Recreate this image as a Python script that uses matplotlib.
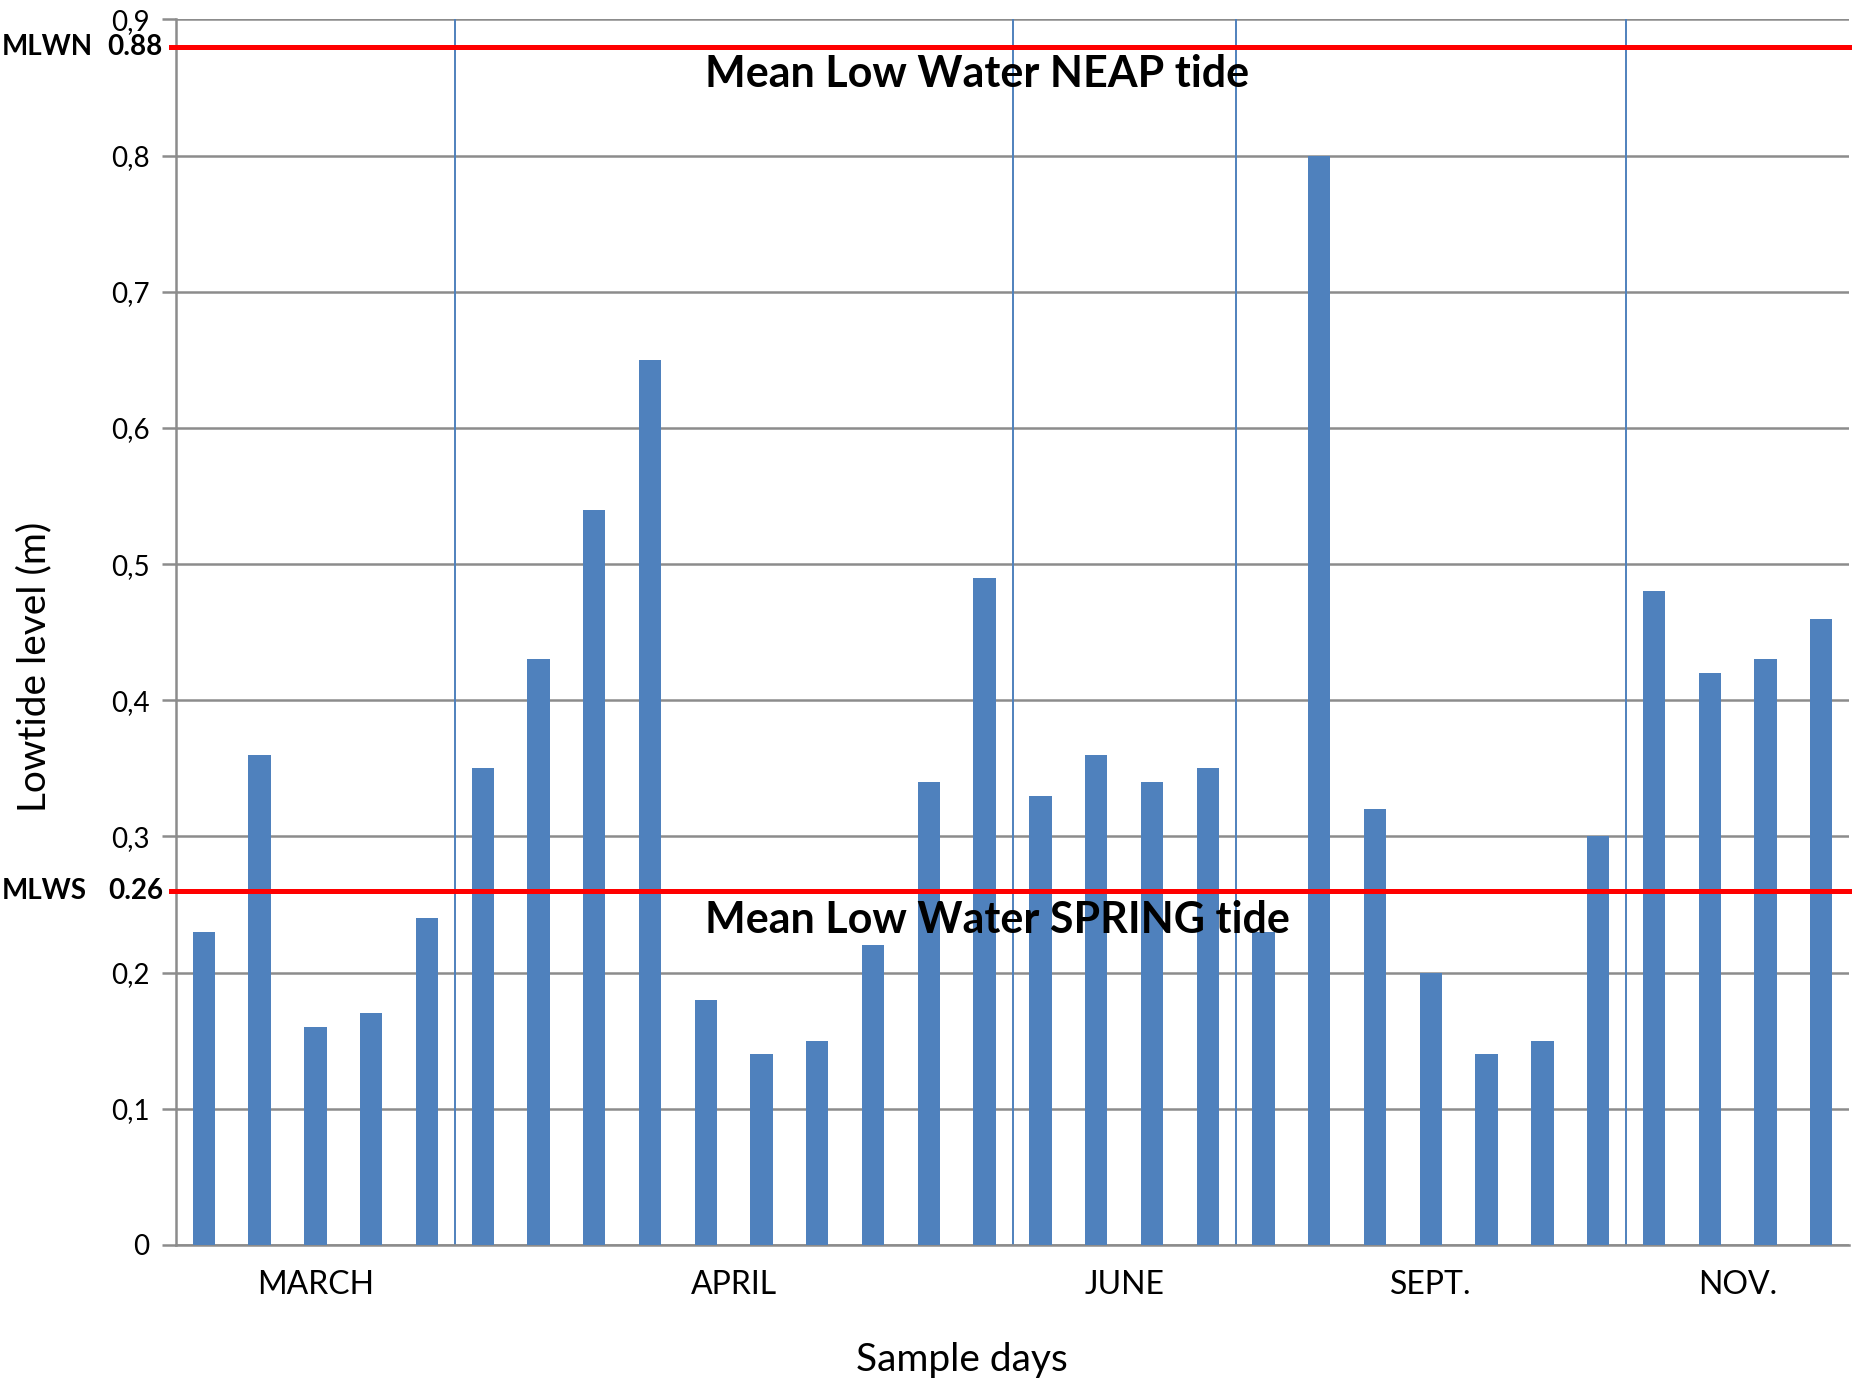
import matplotlib.pyplot as plt
import numpy as np
from matplotlib.ticker import FuncFormatter

plt.rcParams['font.family'] = ['Lato', 'DejaVu Sans']

# low tide levels per sample day (m)
levels = [0.23, 0.36, 0.16, 0.17, 0.24,
          0.35, 0.43, 0.54, 0.65, 0.18, 0.14, 0.15, 0.22, 0.34, 0.49,
          0.33, 0.36, 0.34, 0.35,
          0.23, 0.80, 0.32, 0.20, 0.14, 0.15, 0.30,
          0.48, 0.42, 0.43, 0.46]
months = ['MARCH', 'APRIL', 'JUNE', 'SEPT.', 'NOV.']
month_sizes = [5, 10, 4, 7, 4]
mlwn = 0.88
mlws = 0.26

bar_col = '#4F81BD'
grid_col = '#8C8C8C'

fig = plt.figure(figsize=(18.64, 13.83), dpi=100)
ax = fig.add_axes([0.0944, 0.0998, 0.8976, 0.8862])

x = np.arange(len(levels))
ax.bar(x, levels, width=0.4, color=bar_col, zorder=3)

ax.set_xlim(-0.5, len(levels) - 0.5)
ax.set_ylim(0, 0.9)
ax.set_yticks(np.arange(0, 0.91, 0.1))
ax.yaxis.set_major_formatter(FuncFormatter(lambda v, p: '0' if v == 0 else f'{v:.1f}'.replace('.', ',')))
ax.yaxis.grid(True, color=grid_col, linewidth=1.8, zorder=1)
ax.tick_params(axis='y', length=10, width=1.8, color=grid_col, labelsize=20, pad=9)

# month groups
edges = np.cumsum([0] + month_sizes)
centers = [(edges[i] + edges[i + 1] - 1) / 2 for i in range(len(months))]
ax.set_xticks(centers)
ax.set_xticklabels(months)
ax.tick_params(axis='x', length=0, labelsize=23, pad=18)
for e in edges[1:-1]:
    ax.axvline(e - 0.5, color=bar_col, linewidth=1.4, zorder=2)

for s in ['top', 'right']:
    ax.spines[s].set_visible(False)
for s in ['left', 'bottom']:
    ax.spines[s].set_color(grid_col)
    ax.spines[s].set_linewidth(1.8)

# tide reference lines
ax.axhline(mlwn, color='#FF0000', linewidth=3.6, zorder=4, xmin=-0.003, clip_on=False)
ax.axhline(mlws, color='#FF0000', linewidth=3.6, zorder=4, xmin=-0.003, clip_on=False)

tr = ax.get_yaxis_transform()
ax.text(0.316, 0.86, 'Mean Low Water NEAP tide', transform=tr,
        ha='left', va='center', fontsize=31, fontweight='bold', zorder=5)
ax.text(0.316, 0.2385, 'Mean Low Water SPRING tide', transform=tr,
        ha='left', va='center', fontsize=31, fontweight='bold', zorder=5)

ax.text(-0.104, mlwn, 'MLWN', transform=tr, ha='left', va='center', fontsize=20, fontweight='bold')
ax.text(-0.0078, mlwn, '0.88', transform=tr, ha='right', va='center', fontsize=20, fontweight='bold')
ax.text(-0.104, mlws, 'MLWS', transform=tr, ha='left', va='center', fontsize=20, fontweight='bold')
ax.text(-0.0078, mlws, '0.26', transform=tr, ha='right', va='center', fontsize=20, fontweight='bold')

ax.set_ylabel('Lowtide level (m)', fontsize=28)
ax.yaxis.set_label_coords(-0.074, 0.472)
ax.set_xlabel('Sample days', fontsize=28)
ax.xaxis.set_label_coords(0.470, -0.079)

fig.savefig('out.png', dpi=100)
